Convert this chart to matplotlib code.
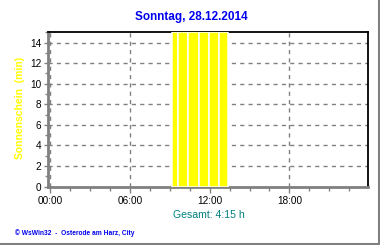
import matplotlib
matplotlib.use("Agg")
import matplotlib.pyplot as plt
from matplotlib.lines import Line2D
from matplotlib.ticker import MultipleLocator, FixedLocator

plt.rcParams['font.family'] = ['Liberation Sans', 'DejaVu Sans']

# Data
title = "Sonntag, 28.12.2014"
ylabel = "Sonnenschein  (min)"
total_text = "Gesamt: 4:15 h"
footer = "\u00a9 WsWin32  -  Osterode am Harz, City"
bar_start_h = [9.16, 9.61, 10.39, 11.17, 11.95, 12.73]
bar_end_h = [9.61, 10.39, 11.17, 11.95, 12.73, 13.38]
bar_values = [15, 15, 15, 15, 15, 15]
x_ticks = [0, 6, 12, 18]
x_tick_labels = ["00:00", "06:00", "12:00", "18:00"]
y_ticks = [0, 2, 4, 6, 8, 10, 12, 14]

W, H = 380, 245
fig = plt.figure(figsize=(W / 100, H / 100), dpi=100)
fig.patch.set_facecolor('white')
ax = fig.add_axes([48 / W, 1 - 186.5 / H, (368 - 48) / W, (186.5 - 32.3) / H])

widths = [e - s for s, e in zip(bar_start_h, bar_end_h)]
ax.bar(bar_start_h, bar_values, width=widths, align='edge', color='#FFFF00',
       edgecolor='white', linewidth=1.1, zorder=3)

ax.set_xlim(-0.17, 23.92)
ax.set_ylim(0, 15)
ax.set_xticks(x_ticks)
ax.set_xticklabels(x_tick_labels)
ax.xaxis.set_minor_locator(FixedLocator([1.5 * i for i in range(16)]))
ax.set_yticks(y_ticks)
ax.yaxis.set_minor_locator(MultipleLocator(1))

ax.tick_params(axis='both', which='both', direction='out', color='#808080',
               labelsize=7.2, width=1)
ax.tick_params(axis='x', which='major', length=4, pad=3)
ax.tick_params(axis='x', which='minor', length=3)
ax.tick_params(axis='y', which='major', length=3, pad=2)
ax.tick_params(axis='y', which='minor', length=2)

ax.grid(True, which='major', axis='both', color='#808080', linestyle=(0, (3, 3)), linewidth=1, zorder=1)
ax.set_axisbelow(True)

for s in ['left', 'bottom']:
    ax.spines[s].set_color('#808080')
    ax.spines[s].set_linewidth(2)
for s in ['top', 'right']:
    ax.spines[s].set_color('black')
    ax.spines[s].set_linewidth(1.3)

fig.text(191 / W, 1 - 17 / H, title, color='#0000EE', fontsize=8.5,
         fontweight='bold', ha='center', va='center')
fig.text(20 / W, 1 - 108 / H, ylabel, color='#FFFF00', fontsize=7.5,
         fontweight='bold', rotation=90, ha='center', va='center')
fig.text(209 / W, 1 - 215 / H, total_text, color='#008080', fontsize=7.6,
         ha='center', va='center')
fig.text(15 / W, 1 - 233 / H, footer, color='#0000EE', fontsize=4.8,
         fontweight='bold', ha='left', va='center')

fig.add_artist(Line2D([378.5 / W, 378.5 / W], [0, 1], color='#808080', linewidth=1.5,
                      transform=fig.transFigure))
fig.add_artist(Line2D([0, 1], [1 - 244 / H, 1 - 244 / H], color='#808080', linewidth=1.5,
                      transform=fig.transFigure))

fig.savefig('out.png', dpi=100, facecolor='white')
